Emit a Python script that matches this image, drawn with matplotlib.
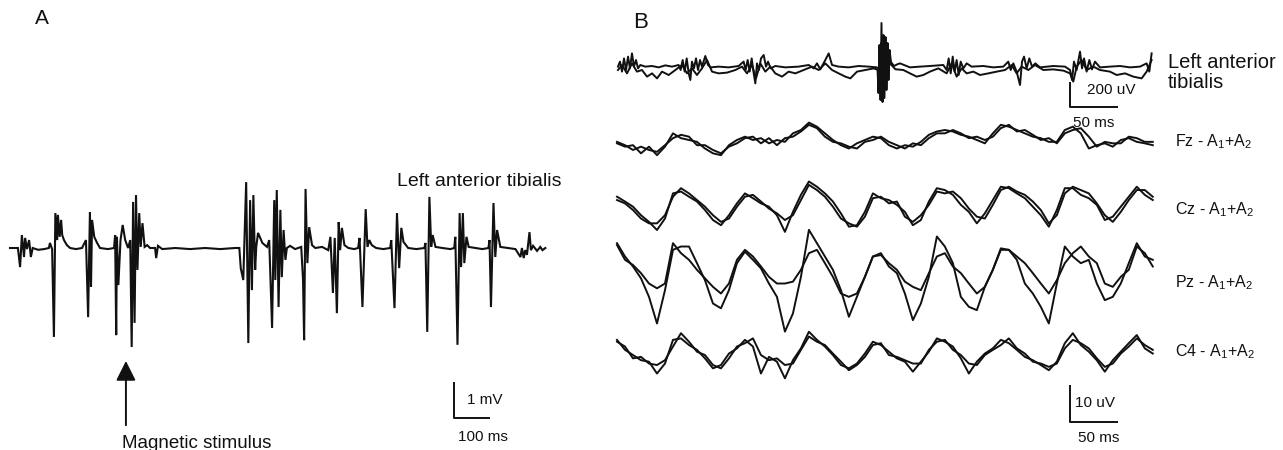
import numpy as np
import matplotlib.pyplot as plt

plt.rcParams['font.family'] = ['Liberation Sans', 'DejaVu Sans']
plt.rcParams['mathtext.fontset'] = 'custom'
plt.rcParams['mathtext.rm'] = 'Liberation Sans'

# ---- A: left anterior tibialis EMG, (ms, mV) ----
emg_trace = [
    (0, 0), (22, 0), (28, -0.53), (33, 0.36), (39, -0.25), (42, 0.28), (47, -0.03), (53, 0.22),
    (58, -0.25), (63, 0), (78, -0.05), (95, -0.03), (108, 0), (111, 0.14), (117, -0.03),
    (122, -2.47), (126, 0.97), (131, 0.22), (133, 0.92), (138, 0.31), (142, 0.78), (145, 0.36),
    (150, 0.22), (158, 0.08), (167, 0), (183, -0.03), (200, 0), (211, 0.22), (214, -0.81),
    (217, -1.92), (222, 1.0), (225, -1.08), (228, 0.78), (234, 0.31), (242, 0.14), (250, 0),
    (272, -0.03), (289, 0), (292, 0.36), (295, -2.42), (297, 0.31), (301, -1.03), (307, 0.22),
    (313, 0.64), (320, 0.22), (328, 0), (334, 0.22), (338, -2.75), (342, 1.28), (346, -2.08),
    (350, 1.47), (354, -0.61), (359, 0.97), (363, 0.03), (368, 0.69), (374, 0.03), (381, 0.08),
    (389, 0), (403, 0), (406, -0.28), (411, 0.06), (423, -0.03), (459, 0), (500, -0.03),
    (542, 0), (584, -0.03), (625, 0), (637, 0), (641, -0.56), (648, -0.89), (652, 0.5),
    (656, 1.83), (662, -2.64), (667, 1.33), (672, -1.17), (676, 1.47), (681, -0.61), (684, 0.03),
    (689, 0.42), (701, 0.14), (714, 0.03), (720, 0.22), (728, -2.22), (734, 1.33), (737, -0.89),
    (741, 1.61), (746, -1.64), (751, 1.06), (755, -0.81), (760, 0.5), (765, -0.33), (769, 0),
    (778, 0.06), (792, -0.03), (809, 0.03), (814, -0.89), (817, -2.56), (821, 1.64), (826, -0.42),
    (831, 0.58), (839, 0.08), (848, 0), (867, 0.03), (884, -0.06), (890, 0.31), (897, -1.25),
    (902, 0.28), (908, -1.81), (913, 0.72), (917, -0.06), (922, 0.56), (929, 0.08), (940, 0),
    (956, -0.03), (967, 0), (971, 0.28), (979, -1.64), (988, 1.08), (993, 0.03), (998, 0.22),
    (1005, 0.08), (1017, 0), (1037, -0.03), (1056, 0), (1059, 0.22), (1068, -1.67), (1075, 0.97),
    (1081, -0.56), (1087, 0.56), (1093, 0.17), (1106, 0), (1129, -0.03), (1151, 0), (1154, 0.14),
    (1159, -2.33), (1165, 1.42), (1170, 0.03), (1174, 0.36), (1182, 0.03), (1201, 0),
    (1223, -0.03), (1234, 0), (1237, 0.31), (1243, -2.69), (1249, 0.97), (1253, -0.53),
    (1258, 0.97), (1262, -0.42), (1268, 0.31), (1274, 0.03), (1293, 0), (1312, -0.03), (1329, 0),
    (1332, 0.22), (1336, -1.64), (1343, 1.25), (1348, -0.25), (1353, 0.5), (1362, 0.03),
    (1384, 0), (1404, -0.03), (1418, -0.25), (1422, 0), (1427, -0.28), (1431, -0.06),
    (1436, -0.19), (1443, 0.44), (1447, -0.06), (1453, 0.06), (1464, -0.08), (1473, 0.03),
    (1479, -0.06), (1487, 0),
]
stim_ms = 322

# ---- B: two superimposed sweeps per channel ----
# tibialis EMG, (ms, uV)
tib_sweep1 = [
    (1, 11), (3.1, 51), (5.2, -29), (7.3, 77), (9.4, -16), (11.5, 91), (13.5, -3), (15.6, 117),
    (17.7, 11), (19.8, 64), (21.9, -3), (24.3, 24), (29.5, 11), (36.5, 16), (43.4, 5), (50.3, 21),
    (57.3, 11), (64.2, 24), (66.3, -16), (68.4, 64), (70.5, -29), (72.6, 77), (74.7, -43),
    (76.4, -96), (78.1, 51), (80.2, -3), (82.3, 77), (84.4, -16), (86.5, 64), (88.5, 11), (92, 96),
    (94.8, 24), (97.6, 5), (105.9, 11), (116.3, 5), (126.7, 16), (131.9, 51), (134, -16),
    (136.1, 64), (138.2, -29), (140.3, 77), (142.4, -43), (144.1, -123), (145.8, 37), (147.9, -16),
    (150, 77), (152.8, 104), (155.2, 11), (157.3, 51), (160.1, -3), (164.9, 16), (175.3, 5),
    (189.2, 11), (199.7, 24), (204.9, -3), (208.3, 37), (211.8, -11), (217, 64), (220.5, 117),
    (224, 24), (230.9, 11), (241.3, 5), (251.7, 16), (262.2, 11), (270.8, 5), (271.4, -16),
    (272.4, -200), (273.4, 184), (274.5, -256), (275.5, 360), (276.6, -272), (277.6, 264),
    (278.6, -240), (279.7, 248), (280.7, -176), (281.8, 200), (282.8, -96), (283.9, 144),
    (285.4, 48), (288.5, 16), (292.7, 32), (294.8, 37), (305.2, 5), (315.6, 11), (326, 16),
    (339.9, 24), (343.4, -16), (345.5, 77), (347.6, -43), (349.7, 91), (351.7, -29), (353.8, 64),
    (355.9, -56), (358, 51), (360.8, -3), (364.2, 37), (369.4, 11), (381.6, 16), (392, 5),
    (402.4, 11), (407.6, 51), (410.1, -16), (412.8, 37), (416.3, -29), (419.8, -136), (421.9, 51),
    (424, 91), (426.7, -3), (429.5, 77), (432.3, 11), (435.8, 37), (440.6, 5), (454.5, 16),
    (466.7, 11), (471.9, -16), (474, -96), (476, 51), (478.8, -16), (482.3, 131), (484.4, -3),
    (486.5, 77), (489.2, -29), (492, 64), (494.8, -11), (497.9, 51), (503.1, 5), (513.5, 11),
    (524, 16), (534.4, 5), (544.8, 11), (551.7, 37), (554.5, -29), (556.9, 117),
]
tib_sweep2 = [
    (1, -16), (5.2, 24), (10.4, -43), (15.6, 37), (20.8, -29), (26, -16), (31.3, -69), (36.5, -43),
    (41.7, -83), (46.9, -29), (53.8, -56), (60.8, -16), (67.7, 24), (72.9, -43), (78.1, -3),
    (83.3, -56), (88.5, -3), (93.8, 64), (99, -29), (105.9, -43), (114.6, -37), (123.3, -16),
    (130.2, 11), (135.4, -43), (140.6, 24), (144.8, -83), (149.3, 37), (154.5, -29), (159.7, 11),
    (164.9, -43), (171.9, -69), (178.8, -29), (185.8, -43), (194.4, -16), (203.1, 11), (210.1, -16),
    (217, 37), (224, -16), (230.9, -43), (237.8, -69), (243.1, -83), (250, -29), (258.7, -16),
    (267.4, -3), (272, -16), (273, -120), (275, 200), (277, -150), (279, 150), (281, -80),
    (284, 40), (290, -10), (298.3, -16), (305.2, -43), (312.2, -69), (319.1, -56), (326, -29),
    (334.7, -3), (343.4, -43), (348.6, 37), (353.8, -69), (359, -3), (364.2, -43), (371.2, -29),
    (378.1, -56), (386.8, -43), (395.5, -29), (404.2, -16), (411.1, 24), (416.3, -43), (421.5, 11),
    (428.5, -16), (435.4, 24), (444.1, -16), (454.5, -11), (465, -21), (471.9, -43), (475.3, -109),
    (478.8, 11), (484, 64), (489.2, -16), (496.2, 11), (503.1, -16), (513.5, -29), (520.5, -56),
    (529.2, -43), (537.8, -69), (546.5, -83), (551.7, -29), (556.9, 64),
]

# EEG, uV, one sample every eeg_dt ms
eeg_dt = 8.33
fz_1 = [-0.9, -1.8, -1.4, -3.6, -1.8, -4.1, -1.8, 1.8, 0.5, 0,
        -0.5, -2.3, -3.6, -4.1, -1.4, 0, 0.9, 0, 0.5, -0.9,
        0, -0.5, 1.8, 2.7, 4.7, 3.6, 1.8, 0, -1.4, -2.3,
        -0.9, 0, 0.9, 0.5, -1.4, -2.3, -1.4, -1.8, -0.5, 1.4,
        2.3, 2.7, 2.3, 1.4, 0.9, 0, -0.9, 1.8, 4.1, 3.6,
        2.7, 1.8, 0.9, 0.5, -0.5, -0.5, 2.7, 3.6, 1.8, -2.3,
        -1.4, -0.9, -1.8, 0, 0.5, -0.5, -0.9, -1.4]
fz_2 = [-0.5, -1.4, -2.7, -1.8, -2.7, -3.2, -1.4, 0.5, 1.4, 0.9,
        -1.4, -1.4, -2.7, -3.6, -1.8, -0.9, 0.5, 0.9, -0.9, 0.5,
        -1.4, 0.5, 0.9, 2.3, 4.1, 3.2, 0.9, -0.5, -0.9, -1.8,
        -2.3, -0.5, 0, 0.9, -0.5, -1.4, -2.3, -0.9, -1.4, 0.5,
        1.8, 1.8, 2.7, 1.8, 0.5, 0.9, 0, 0.9, 3.2, 4.1,
        2.3, 2.7, 1.4, 0, 0.5, -0.9, 1.8, 2.7, 3.2, 0.9,
        -1.8, -0.5, -0.9, -0.9, 0.9, 0.5, -0.5, -0.5]
cz_1 = [2.7, 1.4, 0, -2.3, -4.1, -6.3, -3.2, 3.6, 4.1, 2.7,
        1.4, -0.9, -3.6, -5.0, -2.3, 0.9, 3.6, 2.3, 0.9, 0,
        -2.3, -6.8, -1.4, 3.2, 6.8, 5.4, 3.6, 1.4, -1.8, -5.4,
        -5.0, -1.4, 3.6, 2.3, 1.8, 0.5, -1.4, -5.0, -3.6, 1.4,
        5.0, 4.5, 3.2, 0.5, -1.4, -4.5, -1.8, 1.8, 5.4, 5.0,
        3.6, 2.3, 0, -2.3, -5.4, -0.9, 5.0, 5.0, 3.2, 2.3,
        0.5, -3.6, -2.7, 0, 2.7, 5.4, 3.2, 1.8]
cz_2 = [1.8, 0.9, -0.9, -3.2, -4.5, -4.5, -2.3, 2.7, 5.0, 3.6,
        1.8, 0, -2.3, -4.1, -3.2, 0, 2.7, 3.2, 1.4, -0.5,
        -1.8, -3.6, -2.3, 1.8, 5.9, 4.5, 2.7, 0, -3.2, -4.5,
        -5.4, -2.7, 2.3, 2.7, 0.9, 1.4, -2.7, -4.1, -2.3, 0.5,
        4.1, 3.6, 4.1, 2.3, -0.5, -2.7, -3.2, 0.5, 4.5, 5.4,
        4.1, 3.2, 1.4, -0.9, -4.5, -2.3, 3.6, 5.4, 4.5, 3.6,
        0.9, -2.3, -4.1, -1.4, 1.8, 4.5, 4.5, 2.7]
pz_1 = [8.6, 5.0, 2.3, -0.9, -5.9, -13.1, -4.1, 6.8, 7.7, 7.7,
        3.2, -1.4, -7.7, -9.0, -4.1, 3.2, 6.3, 4.1, 1.8, -2.3,
        -5.9, -15.3, -10.4, -0.5, 12.2, 8.6, 5.0, 1.4, -4.1, -11.3,
        -5.9, -0.5, 5.0, 5.9, 2.3, 0.5, -5.0, -12.2, -7.7, -0.5,
        10.4, 7.7, 3.2, -5.9, -8.6, -9.5, -3.2, 1.4, 6.8, 6.8,
        4.1, -2.3, -5.0, -8.6, -13.1, -2.3, 7.7, 5.0, 3.2, 4.1,
        -2.3, -6.8, -5.9, -2.3, 3.2, 8.6, 5.0, 4.1]
pz_2 = [8.1, 4.1, 2.7, 0.5, -2.3, -3.6, -2.3, 8.6, 5.9, 4.1,
        1.4, -0.9, -3.2, -5.0, -2.3, 4.1, 6.8, 5.0, 2.3, -0.5,
        -2.3, -2.3, -1.8, 1.4, 5.9, 6.8, 3.2, -0.5, -5.0, -5.9,
        -5.0, -0.5, 5.0, 5.4, 3.2, 1.4, -1.8, -3.2, -4.1, 0.5,
        5.0, 5.9, 2.3, 0.5, -2.3, -5.0, -3.2, 1.4, 7.2, 6.8,
        5.0, 3.2, 0.5, -2.3, -5.0, -1.4, 3.2, 5.9, 7.7, 5.0,
        3.2, -2.3, -3.2, -0.5, 1.4, 7.7, 5.9, 2.3]
c4_1 = [3.2, 0.5, -0.9, -2.3, -2.7, -5.9, -3.2, 3.2, 3.6, 1.8,
        0.5, -1.8, -4.5, -3.6, -0.5, 0.9, 3.2, 1.4, -5.9, -1.4,
        -2.7, -7.2, -2.3, 0.9, 5.4, 3.2, 1.4, -0.9, -3.6, -4.5,
        -3.2, -0.5, 2.7, 1.8, 0, -1.8, -2.7, -5.4, -2.7, 0,
        3.6, 2.7, 1.4, -1.8, -5.9, -2.7, -0.5, 0.9, 3.2, 2.3,
        0.5, -1.4, -2.3, -3.6, -5.0, -2.7, 2.3, 5.0, 1.8, 0,
        -2.3, -5.4, -2.3, 0, 2.3, 4.5, 0.9, -0.5]
c4_2 = [2.7, 1.4, -1.8, -1.4, -3.2, -3.6, -2.3, 1.4, 5.0, 2.7,
        0, -0.9, -3.6, -4.5, -1.8, 1.4, 2.3, 3.6, -0.9, -2.3,
        -1.8, -3.6, -3.2, 0.5, 4.1, 2.7, 1.8, -0.5, -2.7, -5.0,
        -3.6, -1.4, 1.8, 2.3, -0.9, -1.4, -2.3, -3.2, -3.2, 0.5,
        2.7, 3.2, 0.5, -0.9, -3.2, -3.6, -0.9, 0.5, 1.8, 3.6,
        0.9, -0.5, -2.7, -3.2, -4.1, -3.2, 0.9, 3.2, 2.3, 0.9,
        -1.8, -4.1, -3.2, -0.5, 1.4, 3.6, 1.8, 0.5]
eeg_names = ['Fz', 'Cz', 'Pz', 'C4']

# ---- figure, 1283 x 450 px ----
W, H = 1283, 450
fig = plt.figure(figsize=(W / 100, H / 100), dpi=100)
ink = '#111111'


def px_text(x, y, s, size, **kw):
    fig.text(x / W, 1 - y / H, s, fontsize=size, color=ink, va='center', **kw)


def strip_axes(x0, x1, t0_px, px_per_ms, base_px, px_per_unit):
    # transparent axes over the full height, scaled so units map to the printed scale
    ax = fig.add_axes([x0 / W, 0, (x1 - x0) / W, 1])
    ax.set_xlim((x0 - t0_px) / px_per_ms, (x1 - t0_px) / px_per_ms)
    ax.set_ylim(-(H - base_px) / px_per_unit, base_px / px_per_unit)
    ax.axis('off')
    ax.patch.set_alpha(0)
    return ax


def scale_bar(ax, t0, v0, dt, dv):
    ax.plot([t0, t0, t0 + dt], [v0 + dv, v0, v0], color=ink, lw=1.4, solid_capstyle='butt')


# panel A
ax_a = strip_axes(0, 600, 10, 0.36, 248, 36)
emg = np.array(emg_trace)
ax_a.plot(emg[:, 0], emg[:, 1], color=ink, lw=1.5, solid_joinstyle='miter')
scale_bar(ax_a, 1233, -4.72, 100, 1)
ax_a.annotate('', xy=(stim_ms, -3.06), xytext=(stim_ms, -5.0),
              arrowprops=dict(arrowstyle='-|>,head_length=0.6,head_width=0.3',
                              mutation_scale=20, lw=1.4, color=ink))
px_text(35, 19, 'A', 15)
px_text(397, 182, 'Left anterior tibialis', 14)
px_text(122, 444, 'Magnetic stimulus', 13.5)
px_text(467, 400, '1 mV', 11)
px_text(458, 437, '100 ms', 11)

# panel B
ax_t = strip_axes(600, W, 617, 0.96, 68, 0.125)
for sweep in (tib_sweep1, tib_sweep2):
    s = np.array(sweep)
    ax_t.plot(s[:, 0], s[:, 1], color=ink, lw=1.4)
scale_bar(ax_t, 471.9, -312, 50, 200)

eeg_pairs = [(fz_1, fz_2), (cz_1, cz_2), (pz_1, pz_2), (c4_1, c4_2)]
eeg_base = [140, 206.7, 275, 351.7]
label_y = [142, 210, 283, 352]
for name, (s1, s2), base, ly in zip(eeg_names, eeg_pairs, eeg_base, label_y):
    ax = strip_axes(600, W, 617, 0.96, base, 3.7)
    t = np.arange(len(s1)) * eeg_dt
    ax.plot(t, s1, color=ink, lw=1.4)
    ax.plot(t, s2, color=ink, lw=1.4)
    px_text(1175, ly, name + r' - $\mathrm{A_1{+}A_2}$', 11.5)
    if name == 'C4':
        scale_bar(ax, 471.9, -19.0, 50, 10)

px_text(633, 23, 'B', 16)
px_text(1168, 62, 'Left anterior', 14.5)
px_text(1168, 83, 'tibialis', 14.5)
px_text(1087, 90, '200 uV', 11)
px_text(1073, 123, '50 ms', 11)
px_text(1075, 403, '10 uV', 11)
px_text(1078, 438, '50 ms', 11)

fig.savefig('out.png', dpi=100)
